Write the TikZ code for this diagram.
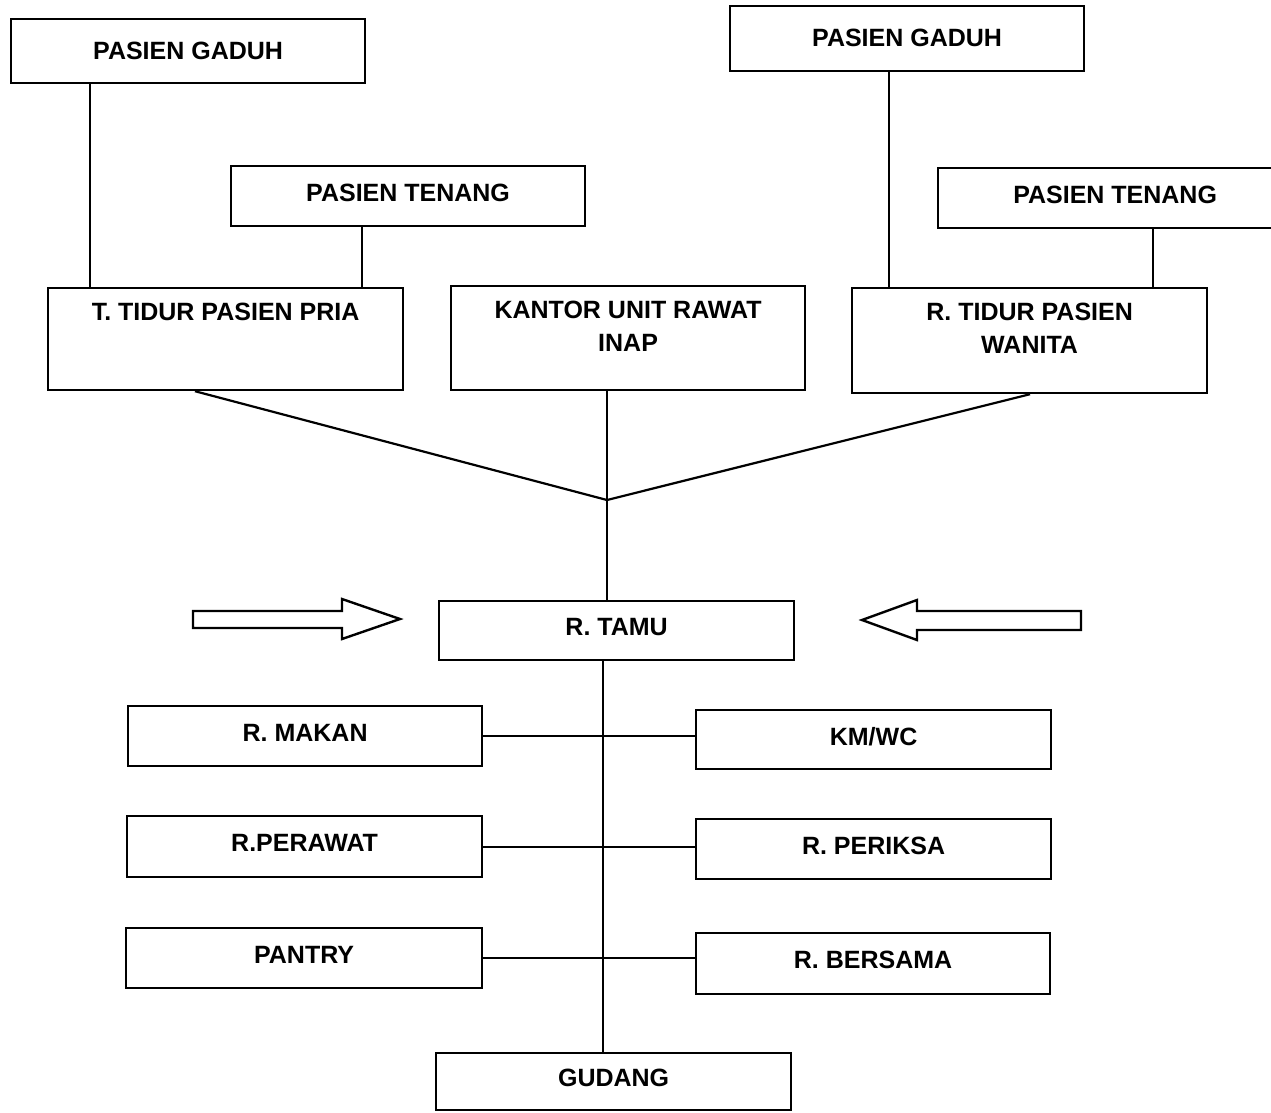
\documentclass[tikz,border=0pt]{standalone}
\usepackage{fontspec}
\setmainfont{Liberation Sans}
\usetikzlibrary{positioning}

\begin{document}
\begin{tikzpicture}[x=1pt, y=-1pt,
            room/.style={draw, line width=2.2pt, anchor=north west, minimum width=354, minimum height=60,
                         font=\bfseries\fontsize{25}{33}\selectfont, align=center, text depth=7pt},
            toptext/.style={font=\bfseries\fontsize{25}{33}\selectfont, align=center, anchor=north, yshift=-13},
            tallroom/.style={room, minimum height=104, label={[toptext]north:#1}},
            link/.style={line width=2.2pt},
            hollow/.style={line width=2.4pt, line join=miter}
        ]
            \useasboundingbox (0,0) rectangle (1271,1112);

            % Patient rooms
            \node[room, minimum height=64, text depth=1pt] (gaduhL) at (10,18) {PASIEN GADUH};
            \node[room, minimum height=65, text depth=1pt] (gaduhR) at (729,5) {PASIEN GADUH};
            \node[room] (tenangL) at (230,165) {PASIEN TENANG};
            \node[room] (tenangR) at (937,167) {PASIEN TENANG};

            % Main row
            \node[tallroom={T. TIDUR PASIEN PRIA}, minimum width=355, minimum height=102] (pria) at (47,287) {};
            \node[tallroom={KANTOR UNIT RAWAT\\INAP}] (kantor) at (450,285) {};
            \node[tallroom={R. TIDUR PASIEN\\WANITA}, minimum width=355, minimum height=105] (wanita) at (851,287) {};

            % Service rooms
            \node[room, minimum width=355, minimum height=59] (tamu) at (438,600) {R. TAMU};
            \node[room] (makan) at (127,705) {R. MAKAN};
            \node[room, minimum width=355, minimum height=59] (kmwc) at (695,709) {KM/WC};
            \node[room, minimum width=355, minimum height=61] (perawat) at (126,815) {R.PERAWAT};
            \node[room, minimum width=355] (periksa) at (695,818) {R. PERIKSA};
            \node[room, minimum width=356] (pantry) at (125,927) {PANTRY};
            \node[room, minimum height=61] (bersama) at (695,932) {R. BERSAMA};
            \node[room, minimum width=355, minimum height=57] (gudang) at (435,1052) {GUDANG};

            % Links to the patient rooms
            \draw[link] ([xshift=80]gaduhL.south west) -- ([xshift=80]gaduhL.south west |- pria.north);
            \draw[link] ([xshift=132]tenangL.south west) -- ([xshift=132]tenangL.south west |- pria.north);
            \draw[link] ([xshift=160]gaduhR.south west) -- ([xshift=160]gaduhR.south west |- wanita.north);
            \draw[link] ([xshift=216]tenangR.south west) -- ([xshift=216]tenangR.south west |- wanita.north);

            % Meeting point above R. TAMU
            \coordinate (hub) at (607,500);
            \draw[link] ([xshift=148]pria.south west) -- (hub) -- ([xshift=179]wanita.south west);
            \draw[link] ([xshift=157]kantor.south west) -- (hub) -- (hub |- tamu.north);

            % Spine down to GUDANG
            \coordinate (spine) at ([xshift=165]tamu.south west);
            \draw[link] (spine) -- (spine |- gudang.north);
            \draw[link] (makan.east) -- (makan.east -| kmwc.west);
            \draw[link] (perawat.east) -- (perawat.east -| periksa.west);
            \draw[link] (pantry.east) -- (pantry.east -| bersama.west);

            % Entrance arrows
            \draw[hollow] (193,611) -- (342,611) -- (342,599) -- (400,619) -- (342,639) -- (342,628) -- (193,628) -- cycle;
            \draw[hollow] (1081,611) -- (917,611) -- (917,600) -- (862,620) -- (917,640) -- (917,630) -- (1081,630) -- cycle;
        \end{tikzpicture}
\end{document}
